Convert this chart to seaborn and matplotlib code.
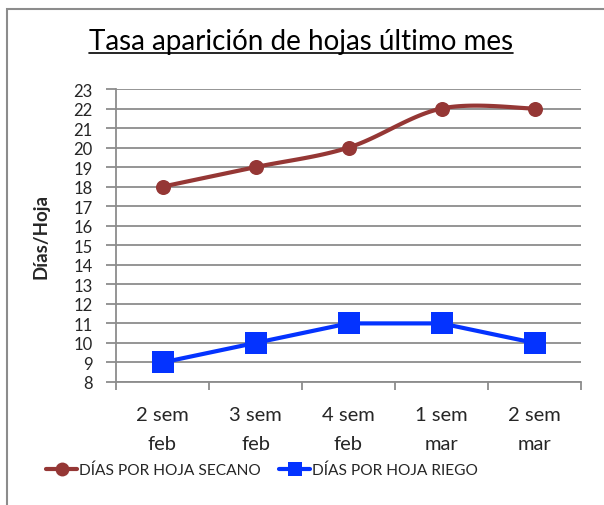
import numpy as np
import pandas as pd
import matplotlib
matplotlib.use("Agg")
import matplotlib.pyplot as plt
from matplotlib.lines import Line2D
from matplotlib.patches import Rectangle
import seaborn as sns

categories = ["2 sem\nfeb", "3 sem\nfeb", "4 sem\nfeb", "1 sem\nmar", "2 sem\nmar"]
secano = [18, 19, 20, 22, 22]
riego = [9, 10, 11, 11, 10]
yticks = list(range(8, 24))
title = "Tasa aparición de hojas último mes"
ylabel = "Días/Hoja"
label_secano = "DÍAS POR HOJA SECANO"
label_riego = "DÍAS POR HOJA RIEGO"

RED = "#953735"
BLUE = "#0433FF"
GRID = "#8c8c8c"

sns.set_theme(style="white")
plt.rcParams["font.family"] = ["Lato", "DejaVu Sans"]

fig = plt.figure(figsize=(6.04, 5.06), dpi=100)
ax = fig.add_axes([116 / 604, 1 - 383 / 506, (581 - 116) / 604, (383 - 90) / 506])

x = np.arange(len(categories))

# smooth curve (Catmull-Rom) for the secano series
def catmull(xs, ys, n=30):
    px = np.concatenate([[xs[0]], xs, [xs[-1]]]).astype(float)
    py = np.concatenate([[ys[0]], ys, [ys[-1]]]).astype(float)
    ox, oy = [], []
    for i in range(1, len(px) - 2):
        t = np.linspace(0, 1, n)
        for P, out in ((px, ox), (py, oy)):
            p0, p1, p2, p3 = P[i - 1], P[i], P[i + 1], P[i + 2]
            v = 0.5 * ((2 * p1) + (-p0 + p2) * t + (2 * p0 - 5 * p1 + 4 * p2 - p3) * t ** 2
                       + (-p0 + 3 * p1 - 3 * p2 + p3) * t ** 3)
            out.extend(v)
    return np.array(ox), np.array(oy)

sx, sy = catmull(x, np.array(secano))
sns.lineplot(x=sx, y=sy, ax=ax, color=RED, lw=3.0, sort=False, zorder=3)
sns.scatterplot(x=x, y=secano, ax=ax, color=RED, s=117, marker="o", edgecolor=RED, linewidth=0, zorder=4)

sns.lineplot(x=x, y=riego, ax=ax, color=BLUE, lw=3.0, zorder=3)
sns.scatterplot(x=x, y=riego, ax=ax, color=BLUE, s=230, marker="s", edgecolor=BLUE, linewidth=0, zorder=4)

ax.set_xlim(-0.5, len(categories) - 0.5)
ax.set_ylim(8, 23)
ax.set_yticks(yticks)
ax.set_yticklabels([str(v) for v in yticks], fontsize=12)
ax.set_xticks(np.arange(-0.5, len(categories), 1.0))
ax.set_xticklabels([])
ax.set_xticks(x, minor=True)
ax.set_xticklabels(categories, minor=True, fontsize=14.5, linespacing=1.9)
ax.tick_params(axis="x", which="minor", length=0, pad=17)
ax.tick_params(axis="x", which="major", length=6, color=GRID, width=1.3, direction="out", bottom=True)
ax.tick_params(axis="y", length=7, color=GRID, width=1.3, direction="out", left=True, pad=10)
ax.grid(axis="y", color=GRID, lw=1.3)
ax.set_axisbelow(True)
for s in ["top", "right"]:
    ax.spines[s].set_visible(False)
for s in ["left", "bottom"]:
    ax.spines[s].set_color(GRID)
    ax.spines[s].set_linewidth(1.3)
ax.set_xlabel("")
ax.set_ylabel(ylabel, fontsize=13.5, fontweight="bold")
ax.yaxis.set_label_coords(-0.142, 0.5)

# title with underline
t = fig.text(301 / 604, 1 - 42 / 506, title, ha="center", va="center", fontsize=20, color="#000000")
fig.canvas.draw()
bb = t.get_window_extent().transformed(fig.transFigure.inverted())
fig.add_artist(Line2D([bb.x0, bb.x1], [bb.y0 + 0.001, bb.y0 + 0.001], transform=fig.transFigure, color="black", lw=1.2))

# frame
fig.add_artist(Rectangle((7 / 604, -0.1), 1.2, 1 - 10 / 506 + 0.1, transform=fig.transFigure,
                         fill=False, edgecolor=GRID, lw=1.5))

handles = [
    Line2D([0], [0], color=RED, lw=3.0, marker="o", markersize=10, markeredgewidth=0),
    Line2D([0], [0], color=BLUE, lw=3.0, marker="s", markersize=10, markeredgewidth=0),
]
fig.legend(handles, [label_secano, label_riego], loc="center", bbox_to_anchor=(262 / 604, 1 - 471 / 506),
           ncol=2, frameon=False, fontsize=11.2, handlelength=2.0, handletextpad=0.1, columnspacing=1.2)

fig.savefig("out.png", dpi=100)
